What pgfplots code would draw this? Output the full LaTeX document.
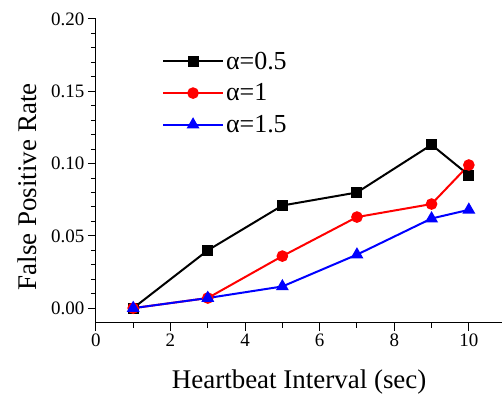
\documentclass[border=0pt]{standalone}
\usepackage{fontspec}
\setmainfont{Liberation Serif}
\usepackage{pgfplots}
\pgfplotsset{compat=1.18}
\begin{document}
\begin{tikzpicture}
\begin{axis}[
  name=ax,
  scale only axis,
  width=407pt, height=304pt,
  xmin=0, xmax=10.9, ymin=-0.01, ymax=0.20,
  axis x line=bottom, axis y line=left,
  axis line style={-, line width=1.2pt},
  xtick={0,2,...,10}, minor x tick num=1,
  ytick={0,0.05,0.10,0.15,0.20}, minor y tick num=4,
  tick align=outside,
  major tick length=8pt, minor tick length=5pt,
  tick style={line width=1pt, black},
  yticklabel style={/pgf/number format/.cd, fixed, fixed zerofill, precision=2},
  /pgf/number format/assume math mode=true,
  tick label style={font=\fontsize{19}{22}\selectfont},
  label style={font=\fontsize{27}{32}\selectfont},
  xlabel={Heartbeat Interval (sec)},
  ylabel={False Positive Rate},
  xlabel style={at={(axis description cs:0.5,-0.195)}, anchor=center},
  ylabel style={at={(axis description cs:-0.17,0.447)}, anchor=center},
  legend style={at={(axis description cs:0.155,0.905)}, anchor=north west, draw=none, fill=none,
    font=\fontsize{26}{30}\selectfont, row sep=9pt},
  legend cell align=left,
  legend image code/.code={\draw[line width=2pt, mark repeat=2,mark phase=2] plot coordinates {(0pt,0pt) (30pt,0pt) (60pt,0pt)};},
  clip=false,
]
\addplot[black, line width=2pt, mark=square*, mark size=4.5pt] coordinates {
  (1,0) (3,0.040) (5,0.071) (7,0.080) (9,0.113) (10,0.092)};
\addlegendentry{α=0.5}
\addplot[red, line width=2pt, mark=*, mark size=4.8pt] coordinates {
  (1,0) (3,0.007) (5,0.036) (7,0.063) (9,0.072) (10,0.099)};
\addlegendentry{α=1}
\addplot[blue, line width=2pt, mark=triangle*, mark size=5.5pt] coordinates {
  (1,0) (3,0.007) (5,0.015) (7,0.037) (9,0.062) (10,0.068)};
\addlegendentry{α=1.5}
\end{axis}
\path (ax.south west) ++(-96pt,-71pt) coordinate (bl);
\path (ax.north east) ++(0pt,19pt) coordinate (tr);
\useasboundingbox (bl) rectangle (tr);
\end{tikzpicture}
\end{document}
